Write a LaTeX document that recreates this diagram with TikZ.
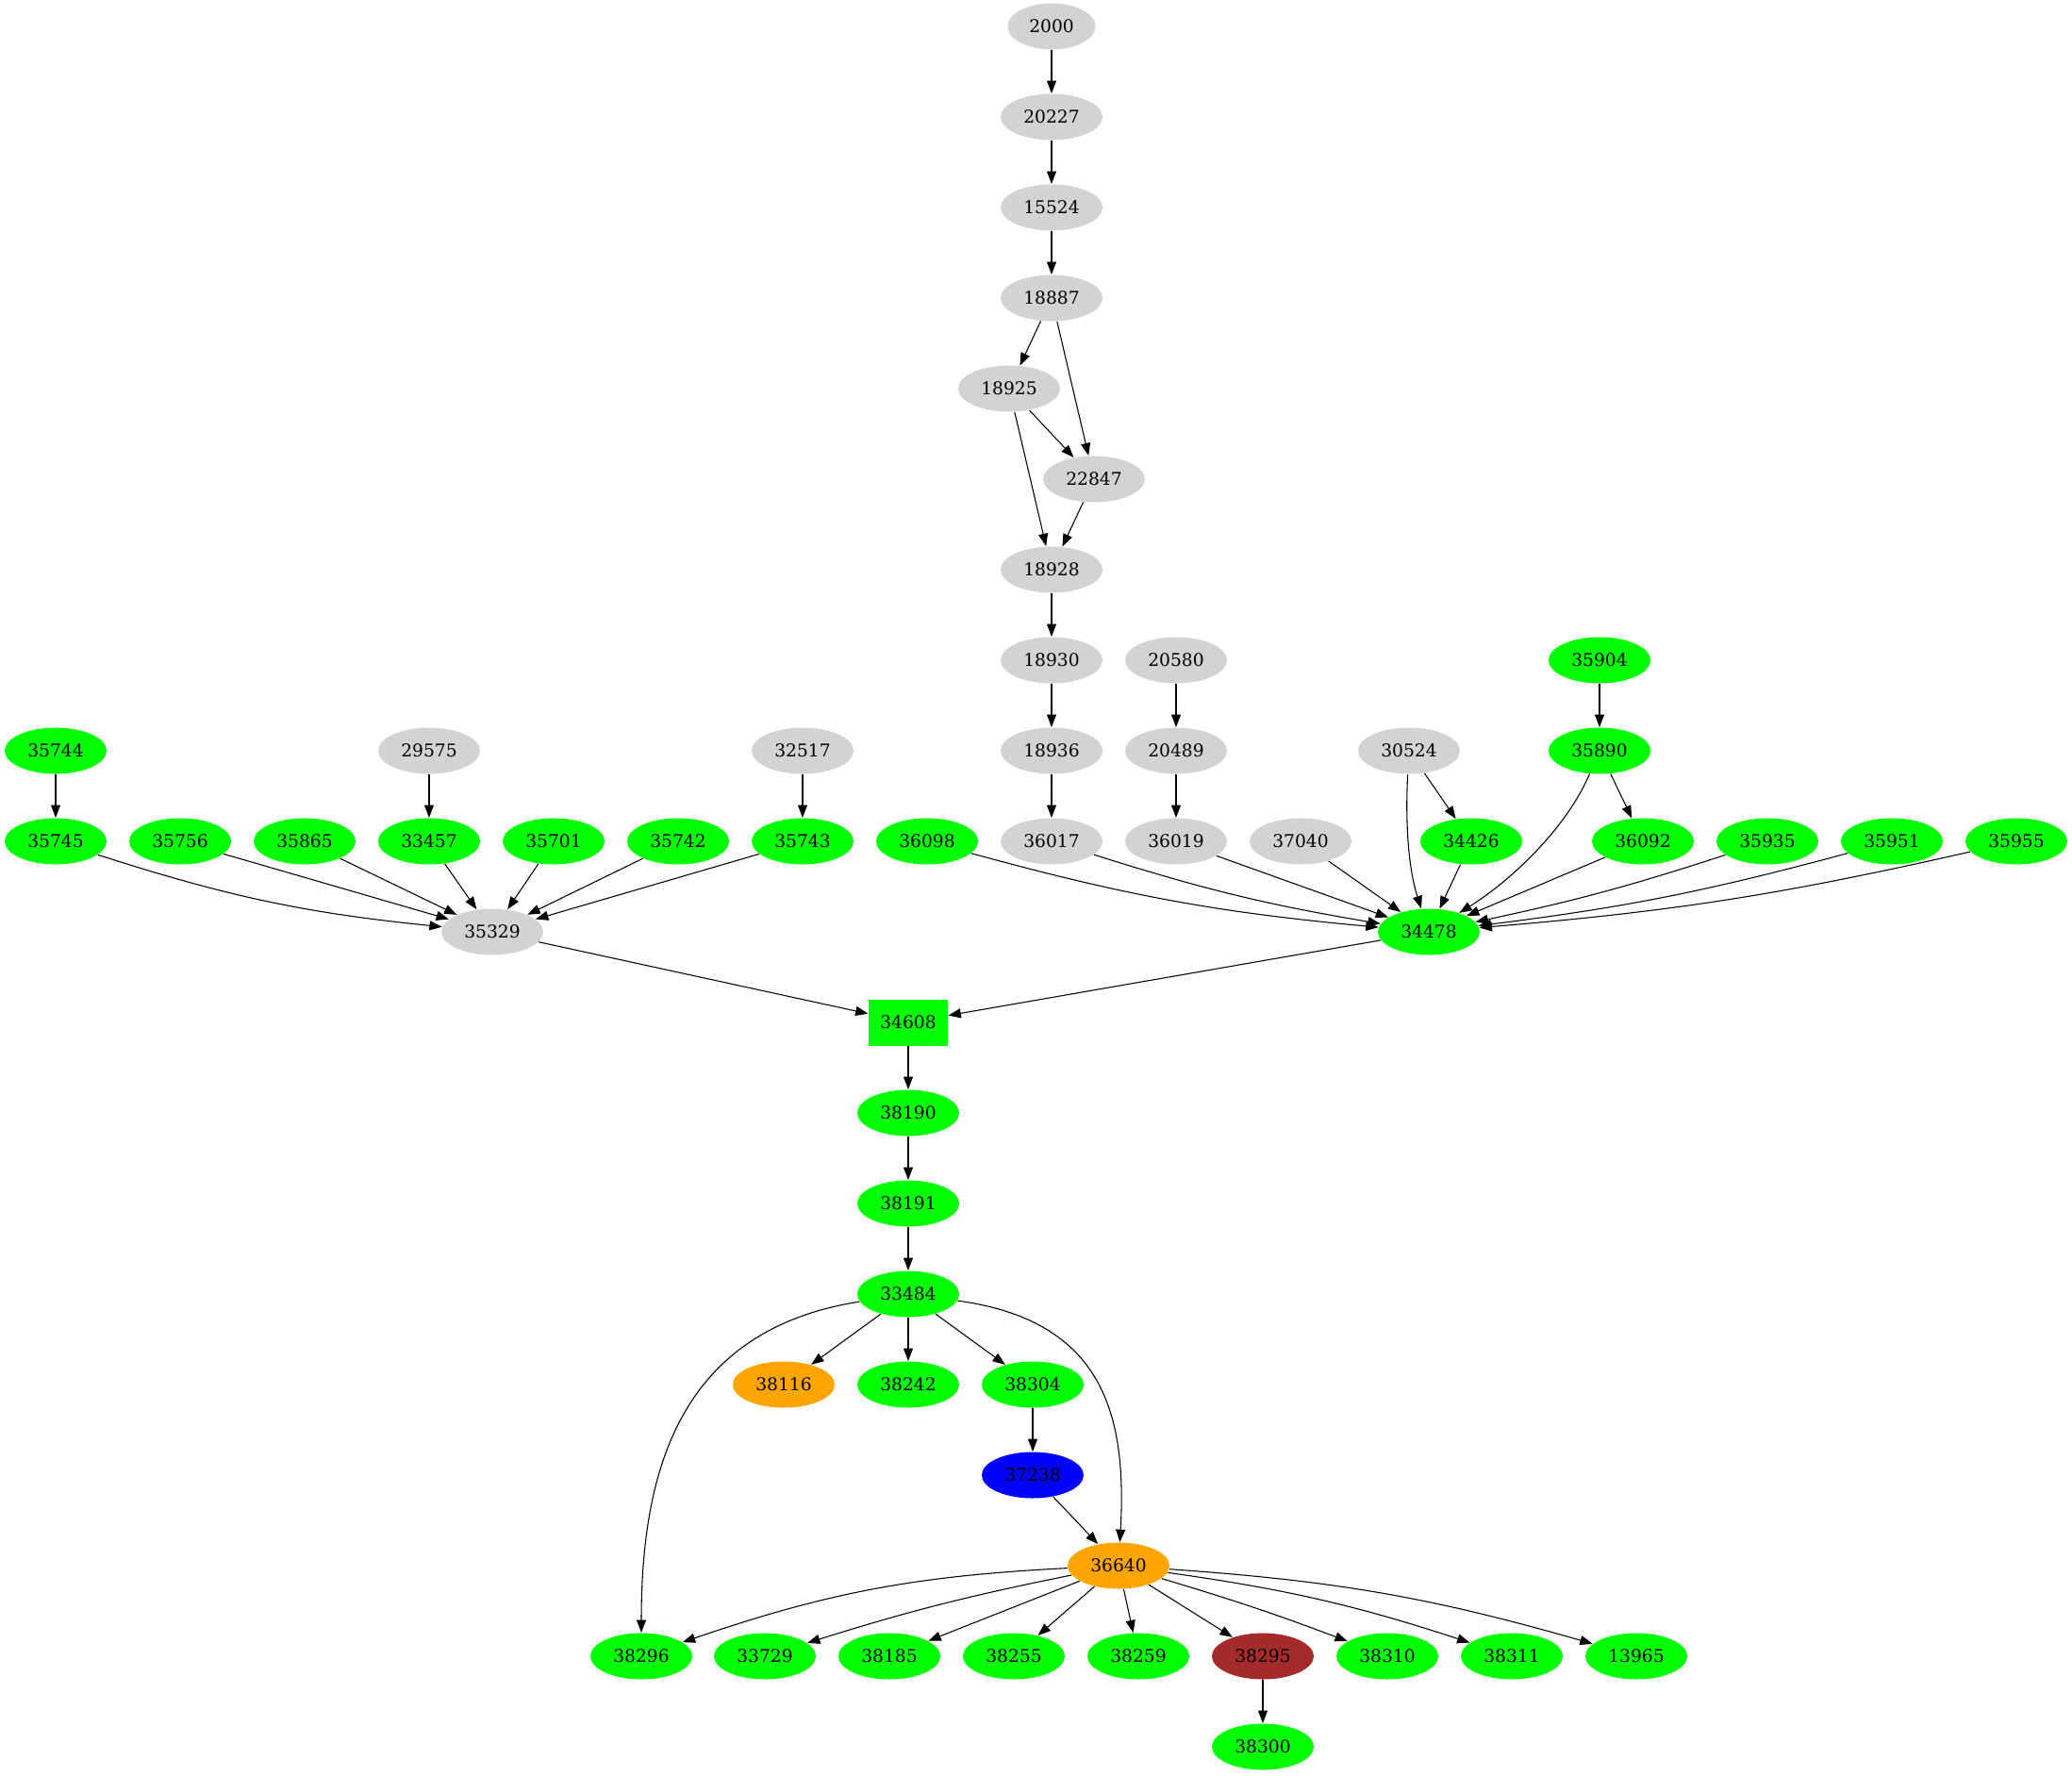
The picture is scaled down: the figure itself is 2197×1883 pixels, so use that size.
\documentclass[tikz,border=0pt]{standalone}
\usepackage{fontspec}
\setmainfont{DejaVu Serif}
\usetikzlibrary{shapes.geometric,arrows.meta}
\definecolor{gvgreen}{HTML}{00FF00}
\definecolor{gvgray}{HTML}{D3D3D3}
\definecolor{gvorange}{HTML}{FFA500}
\definecolor{gvblue}{HTML}{0000FF}
\definecolor{gvbrown}{HTML}{A52A2A}
\begin{document}
\begin{tikzpicture}[x=0.75pt, y=0.75pt, >={Triangle[length=10pt,width=7.5pt]}, line width=0.8pt]
	\tikzstyle{Vertex} = [ellipse, minimum width=81pt, minimum height=36.75pt, inner sep=0pt, font=\fontsize{14pt}{16pt}\selectfont]
	\tikzstyle{Green} = [Vertex, fill=gvgreen]
	\tikzstyle{Gray} = [Vertex, fill=gvgray]
	\useasboundingbox (0,0) rectangle (2197,-1883);
	% upper chain
	\node (2000) at (1115,-28) [Gray, minimum width=69.75pt] {2000};
	\node (20227) at (1115,-124) [Gray] {20227};
	\node (15524) at (1115,-220) [Gray] {15524};
	\node (18887) at (1115,-316) [Gray] {18887};
	\node (18925) at (1070,-412) [Gray] {18925};
	\node (22847) at (1160,-508) [Gray] {22847};
	\node (18928) at (1115,-604) [Gray] {18928};
	\node (18930) at (1115,-700) [Gray] {18930};
	\node (18936) at (1115,-796) [Gray] {18936};
	\node (20580) at (1247,-700) [Gray] {20580};
	\node (20489) at (1247,-796) [Gray] {20489};
	\node (35904) at (1696,-700) [Green] {35904};
	\node (35890) at (1696,-796) [Green] {35890};
	\node (30524) at (1494,-796) [Gray] {30524};
	\node (35744) at (59,-796) [Green] {35744};
	\node (29575) at (455,-796) [Gray] {29575};
	\node (32517) at (851,-796) [Gray] {32517};
	% row of sources
	\node (35745) at (59,-892) [Green] {35745};
	\node (35756) at (191,-892) [Green] {35756};
	\node (35865) at (323,-892) [Green] {35865};
	\node (33457) at (455,-892) [Green] {33457};
	\node (35701) at (587,-892) [Green] {35701};
	\node (35742) at (719,-892) [Green] {35742};
	\node (35743) at (851,-892) [Green] {35743};
	\node (36098) at (983,-892) [Green] {36098};
	\node (36017) at (1115,-892) [Gray] {36017};
	\node (36019) at (1247,-892) [Gray] {36019};
	\node (37040) at (1379,-892) [Gray] {37040};
	\node (34426) at (1560,-892) [Green] {34426};
	\node (36092) at (1742,-892) [Green] {36092};
	\node (35935) at (1874,-892) [Green] {35935};
	\node (35951) at (2006,-892) [Green] {35951};
	\node (35955) at (2138,-892) [Green] {35955};
	\node (35329) at (522,-988) [Gray] {35329};
	\node (34478) at (1515,-988) [Green] {34478};
	% lower part
	\node (34608) at (963,-1084) [rectangle, fill=gvgreen, minimum width=63pt, minimum height=36.75pt, inner sep=0pt, font=\fontsize{14pt}{16pt}\selectfont] {34608};
	\node (38190) at (963,-1180) [Green] {38190};
	\node (38191) at (963,-1276) [Green] {38191};
	\node (33484) at (963,-1372) [Green] {33484};
	\node (38116) at (831,-1468) [Vertex, fill=gvorange] {38116};
	\node (38242) at (963,-1468) [Green] {38242};
	\node (38304) at (1095,-1468) [Green] {38304};
	\node (37238) at (1095,-1564) [Vertex, fill=gvblue] {37238};
	\node (36640) at (1186,-1660) [Vertex, fill=gvorange] {36640};
	\node (38296) at (680,-1756) [Green] {38296};
	\node (33729) at (811,-1756) [Green] {33729};
	\node (38185) at (943,-1756) [Green] {38185};
	\node (38255) at (1075,-1756) [Green] {38255};
	\node (38259) at (1207,-1756) [Green] {38259};
	\node (38295) at (1339,-1756) [Vertex, fill=gvbrown] {38295};
	\node (38310) at (1471,-1756) [Green] {38310};
	\node (38311) at (1603,-1756) [Green] {38311};
	\node (13965) at (1735,-1756) [Green] {13965};
	\node (38300) at (1339,-1852) [Green] {38300};
	% edges
	\draw [->] (2000) to (20227);
	\draw [->] (20227) to (15524);
	\draw [->] (15524) to (18887);
	\draw [->] (18887) to (18925);
	\draw [->] (18887) to (22847);
	\draw [->] (18925) to (22847);
	\draw [->] (18925) to (18928);
	\draw [->] (22847) to (18928);
	\draw [->] (18928) to (18930);
	\draw [->] (18930) to (18936);
	\draw [->] (18936) to (36017);
	\draw [->] (20580) to (20489);
	\draw [->] (20489) to (36019);
	\draw [->] (35904) to (35890);
	\draw [->] (35890) to (36092);
	\draw [->] (30524) to (34426);
	\draw [->] (35744) to (35745);
	\draw [->] (29575) to (33457);
	\draw [->] (32517) to (35743);
	\draw [->] (35745) to[bend right=6] (35329);
	\draw [->] (35756) to (35329);
	\draw [->] (35865) to (35329);
	\draw [->] (33457) to (35329);
	\draw [->] (35701) to (35329);
	\draw [->] (35742) to (35329);
	\draw [->] (35743) to (35329);
	\draw [->] (36098) to[bend right=5] (34478);
	\draw [->] (36017) to[bend right=4] (34478);
	\draw [->] (36019) to (34478);
	\draw [->] (37040) to (34478);
	\draw [->] (30524) .. controls (1490,-870) and (1493,-920) .. (34478);
	\draw [->] (34426) to (34478);
	\draw [->] (35890) .. controls (1660,-880) and (1600,-935) .. (34478);
	\draw [->] (36092) to (34478);
	\draw [->] (35935) to[bend left=3] (34478);
	\draw [->] (35951) to[bend left=4] (34478);
	\draw [->] (35955) to[bend left=4] (34478);
	\draw [->] (35329) to (34608);
	\draw [->] (34478) to (34608);
	\draw [->] (34608) to (38190);
	\draw [->] (38190) to (38191);
	\draw [->] (38191) to (33484);
	\draw [->] (33484) to (38116);
	\draw [->] (33484) to (38242);
	\draw [->] (33484) to (38304);
	\draw [->] (38304) to (37238);
	\draw [->] (37238) to (36640);
	\draw [->] (33484) .. controls (720,-1410) and (680,-1560) .. (38296);
	\draw [->] (33484) .. controls (1170,-1400) and (1195,-1500) .. (36640);
	\draw [->] (36640) to[bend right=8] (38296);
	\draw [->] (36640) to[bend right=3] (33729);
	\draw [->] (36640) to (38185);
	\draw [->] (36640) to (38255);
	\draw [->] (36640) to (38259);
	\draw [->] (36640) to (38295);
	\draw [->] (36640) to[bend left=2] (38310);
	\draw [->] (36640) to[bend left=5] (38311);
	\draw [->] (36640) to[bend left=6] (13965);
	\draw [->] (38295) to (38300);
\end{tikzpicture}
\end{document}
